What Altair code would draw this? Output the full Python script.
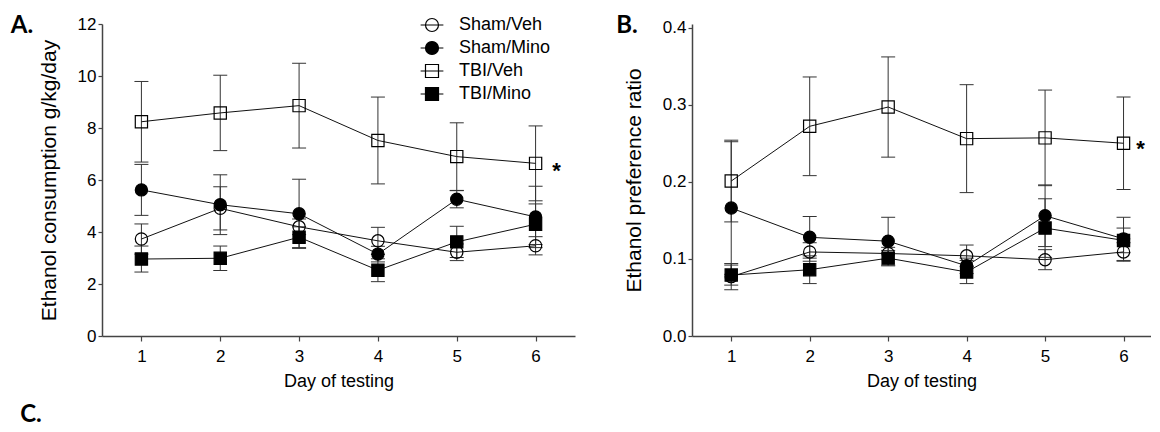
import altair as alt
import pandas as pd

days = [1, 2, 3, 4, 5, 6]
groups = ["Sham/Veh", "Sham/Mino", "TBI/Veh", "TBI/Mino"]

# Panel A: ethanol consumption g/kg/day (mean, SEM)
a_sham_veh = [3.73, 4.91, 4.20, 3.66, 3.22, 3.47]
a_sham_mino = [5.62, 5.05, 4.70, 3.15, 5.26, 4.58]
a_tbi_veh = [8.24, 8.58, 8.86, 7.52, 6.90, 6.64]
a_tbi_mino = [2.96, 2.99, 3.80, 2.53, 3.62, 4.30]
a_sem_sham_veh = [0.58, 0.83, 0.30, 0.52, 0.32, 0.35]
a_sem_sham_mino = [0.98, 1.15, 1.33, 0.30, 0.33, 1.18]
a_sem_tbi_veh = [1.55, 1.45, 1.63, 1.67, 1.30, 1.44]
a_sem_tbi_mino = [0.50, 0.47, 0.40, 0.44, 0.60, 0.78]

# Panel B: ethanol preference ratio (mean, SEM)
b_sham_veh = [0.077, 0.109, 0.107, 0.104, 0.099, 0.109]
b_sham_mino = [0.166, 0.128, 0.123, 0.091, 0.156, 0.126]
b_tbi_veh = [0.201, 0.272, 0.297, 0.256, 0.257, 0.250]
b_tbi_mino = [0.079, 0.086, 0.101, 0.083, 0.140, 0.124]
b_sem_sham_veh = [0.017, 0.012, 0.008, 0.014, 0.013, 0.012]
b_sem_sham_mino = [0.086, 0.027, 0.031, 0.010, 0.040, 0.028]
b_sem_tbi_veh = [0.053, 0.064, 0.065, 0.070, 0.062, 0.060]
b_sem_tbi_mino = [0.013, 0.018, 0.010, 0.015, 0.038, 0.016]

a_y_ticks = [0, 2, 4, 6, 8, 10, 12]
b_y_ticks = [0.0, 0.1, 0.2, 0.3, 0.4]
x_ticks = [1, 2, 3, 4, 5, 6]
significant_group = "TBI/Veh"
significant_day = 6

FONT = "Liberation Sans"


def build(means, sems):
    rows = []
    for g, m_list, s_list in zip(groups, means, sems):
        for d, m, s in zip(days, m_list, s_list):
            rows.append({"group": g, "day": d, "mean": m, "lo": m - s, "hi": m + s})
    return pd.DataFrame(rows)


df_a = build([a_sham_veh, a_sham_mino, a_tbi_veh, a_tbi_mino],
             [a_sem_sham_veh, a_sem_sham_mino, a_sem_tbi_veh, a_sem_tbi_mino])
df_b = build([b_sham_veh, b_sham_mino, b_tbi_veh, b_tbi_mino],
             [b_sem_sham_veh, b_sem_sham_mino, b_sem_tbi_veh, b_sem_tbi_mino])

shape_scale = alt.Scale(domain=groups, range=["circle", "circle", "square", "square"])
fill_scale = alt.Scale(domain=groups, range=["transparent", "black", "transparent", "black"])
size_scale = alt.Scale(domain=groups, range=[150, 150, 190, 190])

circle_path = "M-1.75,0L1.75,0M-1,0A1,1,0,1,0,1,0A1,1,0,1,0,-1,0Z"
square_path = "M-1.75,0L1.75,0M-1,-1L1,-1L1,1L-1,1Z"
legend_shape_scale = alt.Scale(domain=groups, range=[circle_path, circle_path, square_path, square_path])
legend_stroke_scale = alt.Scale(domain=groups, range=["black", "black", "black", "black"])


def make_legend():
    return alt.Legend(title=None, orient="none", legendX=321, legendY=-8,
                      symbolSize=169, symbolStrokeWidth=1.2,
                      labelFont=FONT, labelFontSize=18, labelColor="black",
                      labelOffset=18, rowPadding=5)


def panel(df, xmax, ydom, yticks, yfmt, ytitle, width, height, letter, letter_xy,
          star_dx, star_dy, extra_letter=None, legend=False):
    x = alt.X("day:Q", scale=alt.Scale(domain=[0.5, xmax], nice=False, zero=False),
              axis=alt.Axis(values=x_ticks, format="d", title="Day of testing", tickSize=5,
                            labelPadding=7.5, titlePadding=7.5))
    y_axis = alt.Axis(values=yticks, format=yfmt, title=ytitle, tickSize=4, labelPadding=2,
                      titlePadding=18)
    yscale = alt.Scale(domain=ydom, nice=False, zero=True)
    base = alt.Chart(df)
    err = base.mark_rule(color="#333333", strokeWidth=1).encode(
        x=x, y=alt.Y("lo:Q", scale=yscale, axis=y_axis), y2="hi:Q")
    caps = base.transform_fold(["lo", "hi"], as_=["end", "yv"]).mark_tick(
        orient="horizontal", size=14, thickness=1, color="#333333", opacity=1).encode(
        x="day:Q", y=alt.Y("yv:Q", scale=yscale), detail="group:N")
    lines = base.mark_line(color="#111111", strokeWidth=1).encode(
        x="day:Q", y=alt.Y("mean:Q", scale=yscale), detail="group:N")
    pts = base.mark_point(filled=True, stroke="black", strokeWidth=1.2, opacity=1).encode(
        x="day:Q", y=alt.Y("mean:Q", scale=yscale),
        shape=alt.Shape("group:N", scale=shape_scale, legend=None),
        fill=alt.Fill("group:N", scale=fill_scale, legend=None),
        size=alt.Size("group:N", scale=size_scale, legend=None))
    star = base.transform_filter(
        f"datum.group == '{significant_group}' && datum.day == {significant_day}"
    ).mark_text(text="*", font=FONT, fontSize=22, fontWeight="bold", dx=star_dx, dy=star_dy,
                align="center", baseline="middle", color="black").encode(
        x="day:Q", y=alt.Y("mean:Q", scale=yscale))
    letter_df = pd.DataFrame({"label": [letter]})
    let = alt.Chart(letter_df).mark_text(font="Lato", fontSize=24, fontWeight="bold",
                                         align="center", baseline="middle", color="black").encode(
        text="label:N", x=alt.value(letter_xy[0]), y=alt.value(letter_xy[1]))
    layers = [err, caps, lines, pts, star, let]
    if extra_letter is not None:
        ex_df = pd.DataFrame({"label": [extra_letter[0]]})
        layers.append(alt.Chart(ex_df).mark_text(font="Lato", fontSize=24, fontWeight="bold",
                                                 align="center", baseline="middle", color="black").encode(
            text="label:N", x=alt.value(extra_letter[1]), y=alt.value(extra_letter[2])))
    if legend:
        leg_df = pd.DataFrame({"Legend": groups})
        leg = alt.Chart(leg_df).transform_filter("false").mark_point(
            filled=True, strokeWidth=1.2, opacity=1).encode(
            shape=alt.Shape("Legend:N", scale=legend_shape_scale, legend=make_legend()),
            fill=alt.Fill("Legend:N", scale=fill_scale, legend=make_legend()),
            stroke=alt.Stroke("Legend:N", scale=legend_stroke_scale, legend=make_legend()))
        layers.append(leg)
    ch = alt.layer(*layers).properties(width=width, height=height)
    ch = ch.resolve_scale(shape="independent", fill="independent", stroke="independent")
    return ch


chart_a = panel(df_a, 6.5, [0, 12], a_y_ticks, "d", "Ethanol consumption g/kg/day", 473, 312,
                "A.", (-80, 2), 21, 8, extra_letter=("C.", -71, 391), legend=True)
chart_b = panel(df_b, 6.35, [0, 0.4047], b_y_ticks, ".1f", "Ethanol preference ratio", 459, 312,
                "B.", (-65, 2), 17, 6)

chart = alt.hconcat(chart_a, chart_b, spacing=41).resolve_scale(
    x="independent", y="independent", shape="independent", fill="independent",
    size="independent", stroke="independent"
).properties(padding={"left": 2, "top": 6, "right": 0, "bottom": 0}).configure_view(
    stroke=None
).configure_axis(
    grid=False, domainColor="#444444", domainWidth=1.5, tickColor="#444444", tickWidth=1.2,
    labelFont=FONT, labelFontSize=17, labelColor="black", titleFont=FONT, titleColor="black",
    titleFontWeight="normal"
).configure_axisY(titleFontSize=21).configure_axisX(titleFontSize=18)

chart.save("out.html", embed_options={"renderer": "svg", "actions": False})
